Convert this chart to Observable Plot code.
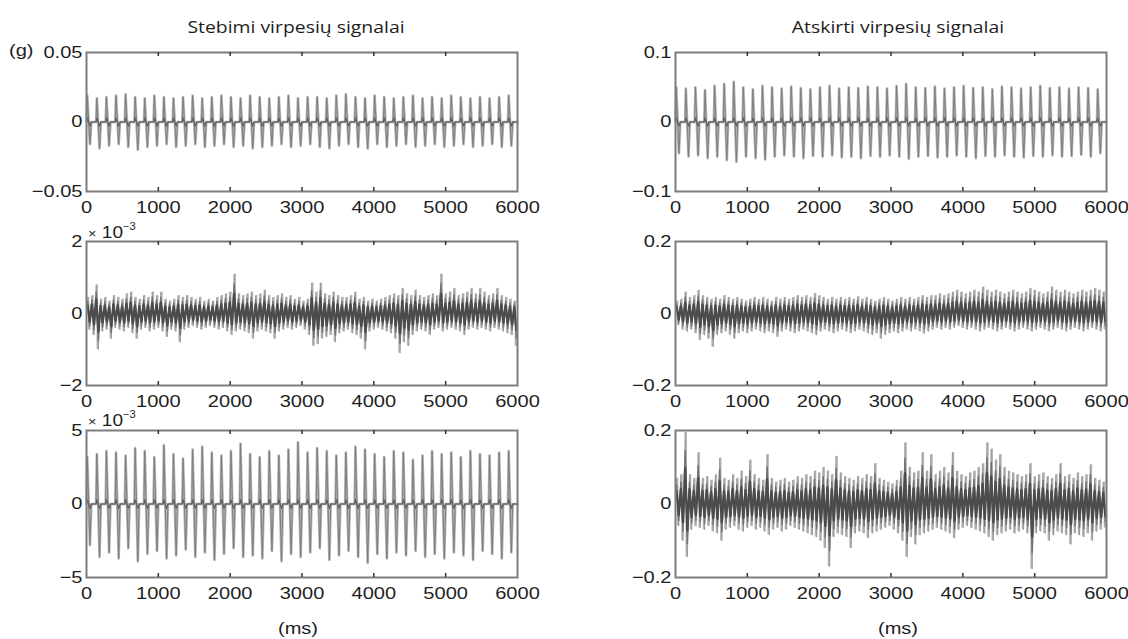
<!DOCTYPE html>
<html>
<head>
<meta charset="utf-8">
<script src="https://cdn.jsdelivr.net/npm/d3@7"></script>
<script src="https://cdn.jsdelivr.net/npm/@observablehq/plot@0.6"></script>
<style>
  body { margin: 0; background: #fff; }
  #root { position: relative; width: 1128px; height: 639px; overflow: hidden; background: #fff;
          font-family: "Liberation Sans", Arial, sans-serif; color: #1e1e1e; }
  .panel { position: absolute; }
  .lbl { position: absolute; white-space: nowrap; line-height: 1; }
  .title { font-family: "Open Sans", sans-serif; font-size: 17px; transform: translate(-50%, -50%) scaleX(1.14); }
  .ms { font-size: 17px; transform: translate(-50%, -50%) scaleX(1.18); }
  .unit { font-size: 17px; transform-origin: left center; transform: translateY(-50%) scaleX(1.18); }
  .exp { font-size: 17px; transform-origin: left center; transform: translateY(-50%) scaleX(1.12); }
  .exp .x { font-size: 13px; }
  .exp .s { font-size: 10px; position: relative; top: -8px; }
</style>
</head>
<body>
<div id="root"></div>
<script>
// ---------------- data ----------------
const titles = ["Stebimi virpesių signalai", "Atskirti virpesių signalai"];
const xTicks = [0, 1000, 2000, 3000, 4000, 5000, 6000];
const xTickLabels = ["0", "1000", "2000", "3000", "4000", "5000", "6000"];

const yTicksA = [-0.05, 0, 0.05];  const yLabelsA = ["\u22120.05", "0", "0.05"];
const yTicksB = [-0.1, 0, 0.1];    const yLabelsB = ["\u22120.1", "0", "0.1"];
const yTicksC = [-2, 0, 2];        const yLabelsC = ["\u22122", "0", "2"];
const yTicksD = [-0.2, 0, 0.2];    const yLabelsD = ["\u22120.2", "0", "0.2"];
const yTicksE = [-5, 0, 5];        const yLabelsE = ["\u22125", "0", "5"];
const yTicksF = [-0.2, 0, 0.2];    const yLabelsF = ["\u22120.2", "0", "0.2"];

// observed signal 1 (g): per-cycle positive / negative peaks
const hiA = [0.019,0.017,0.018,0.019,0.02,0.018,0.017,0.019,0.018,0.017,0.018,0.019,0.017,0.018,0.019,0.018,0.017,0.019,0.018,0.017,0.018,0.019,0.017,0.018,0.018,0.017,0.019,0.02,0.018,0.017,0.019,0.018,0.017,0.018,0.019,0.017,0.018,0.017,0.019,0.018,0.017,0.018,0.017,0.018,0.019];
const loA = [-0.016,-0.019,-0.017,-0.016,-0.018,-0.02,-0.018,-0.017,-0.016,-0.018,-0.017,-0.016,-0.018,-0.017,-0.016,-0.018,-0.017,-0.019,-0.018,-0.017,-0.016,-0.018,-0.017,-0.016,-0.018,-0.019,-0.017,-0.016,-0.018,-0.019,-0.016,-0.018,-0.017,-0.016,-0.018,-0.017,-0.016,-0.018,-0.017,-0.016,-0.018,-0.017,-0.016,-0.018,-0.017];

// separated signal 1
const hiB = [0.05,0.048,0.05,0.046,0.052,0.055,0.058,0.05,0.047,0.052,0.05,0.048,0.051,0.049,0.047,0.05,0.052,0.048,0.05,0.049,0.051,0.05,0.048,0.052,0.055,0.05,0.049,0.051,0.048,0.05,0.052,0.049,0.05,0.047,0.051,0.05,0.048,0.05,0.052,0.049,0.05,0.048,0.05,0.049,0.047];
const loB = [-0.045,-0.05,-0.048,-0.052,-0.05,-0.055,-0.057,-0.05,-0.052,-0.054,-0.05,-0.048,-0.05,-0.052,-0.049,-0.05,-0.048,-0.051,-0.05,-0.052,-0.049,-0.05,-0.048,-0.05,-0.053,-0.05,-0.049,-0.051,-0.05,-0.048,-0.05,-0.052,-0.049,-0.05,-0.048,-0.05,-0.051,-0.049,-0.05,-0.048,-0.05,-0.049,-0.047,-0.05,-0.045];

// observed signal 2 (x 10^-3): 60 ms bins, upper / lower extremes
const hiC = [0.45,0.5,0.8,0.4,0.45,0.35,0.5,0.45,0.4,0.55,0.6,0.45,0.4,0.5,0.45,0.6,0.5,0.6,0.4,0.35,
             0.4,0.5,0.45,0.5,0.45,0.4,0.45,0.35,0.4,0.35,0.45,0.5,0.55,0.6,1.1,0.55,0.5,0.55,0.6,0.5,
             0.55,0.65,0.5,0.45,0.5,0.55,0.45,0.5,0.4,0.45,0.35,0.4,0.85,0.6,0.85,0.55,0.5,0.6,0.5,0.45,
             0.45,0.5,0.6,0.4,0.45,0.35,0.4,0.35,0.4,0.45,0.5,0.55,0.5,0.7,0.55,0.5,0.65,0.5,0.45,0.5,
             0.55,0.5,1.1,0.55,0.6,0.7,0.5,0.55,0.6,0.7,0.55,0.7,0.6,0.5,0.55,0.7,0.5,0.45,0.4,0.35];
const loC = [-0.45,-0.6,-1.0,-0.5,-0.45,-0.7,-0.4,-0.45,-0.5,-0.4,-0.55,-0.7,-0.45,-0.4,-0.5,-0.45,-0.4,-0.5,-0.65,-0.45,
             -0.5,-0.8,-0.45,-0.4,-0.35,-0.4,-0.45,-0.4,-0.35,-0.4,-0.45,-0.4,-0.5,-0.6,-0.5,-0.45,-0.5,-0.55,-0.7,-0.5,
             -0.45,-0.5,-0.55,-0.7,-0.5,-0.45,-0.4,-0.45,-0.4,-0.35,-0.45,-0.6,-0.9,-0.85,-0.7,-0.65,-0.6,-0.8,-0.55,-0.5,
             -0.45,-0.55,-0.6,-0.7,-1.0,-0.5,-0.45,-0.4,-0.45,-0.5,-0.55,-0.7,-1.1,-0.8,-0.9,-0.6,-0.5,-0.45,-0.5,-0.6,
             -0.45,-0.4,-0.5,-0.45,-0.4,-0.45,-0.5,-0.6,-0.45,-0.4,-0.45,-0.4,-0.45,-0.5,-0.4,-0.45,-0.5,-0.55,-0.6,-0.9];

// separated signal 2
const hiD = [.035,.04,.06,.045,.05,.065,.05,.045,.04,.045,.04,.05,.045,.04,.045,.04,.035,.04,.045,.04,
             .045,.04,.035,.045,.04,.045,.04,.045,.05,.045,.05,.045,.056,.05,.045,.04,.045,.04,.045,.04,
             .045,.04,.047,.04,.045,.04,.035,.04,.045,.04,.035,.04,.045,.04,.045,.04,.045,.05,.045,.05,
             .05,.055,.05,.055,.06,.065,.06,.055,.06,.065,.06,.074,.065,.06,.065,.06,.055,.06,.065,.06,
             .055,.06,.07,.065,.06,.055,.06,.074,.065,.06,.065,.06,.055,.06,.065,.06,.065,.07,.065,.06];
const loD = [-.033,-.045,-.05,-.045,-.055,-.074,-.06,-.07,-.093,-.06,-.055,-.05,-.06,-.07,-.055,-.05,-.055,-.05,-.045,-.05,
             -.055,-.05,-.055,-.065,-.05,-.045,-.05,-.055,-.05,-.045,-.05,-.055,-.06,-.05,-.045,-.05,-.055,-.05,-.045,-.05,
             -.055,-.05,-.045,-.05,-.055,-.06,-.055,-.07,-.06,-.055,-.05,-.055,-.05,-.045,-.05,-.045,-.05,-.056,-.05,-.045,
             -.04,-.045,-.04,-.045,-.04,-.035,-.04,-.045,-.04,-.045,-.05,-.045,-.04,-.045,-.05,-.045,-.04,-.045,-.05,-.045,
             -.04,-.045,-.05,-.045,-.04,-.045,-.05,-.045,-.04,-.045,-.05,-.045,-.04,-.045,-.05,-.045,-.04,-.045,-.05,-.045];

// observed signal 3 (x 10^-3): per-cycle peaks
const hiE = [3.2,3.4,3.6,3.5,3.3,3.8,3.6,3.2,4.0,3.4,3.1,3.7,3.9,3.5,3.3,3.6,4.1,3.4,3.2,3.6,3.3,3.7,4.2,3.5,3.8,3.6,3.3,3.5,3.9,3.7,3.4,3.2,3.6,3.5,3.0,3.3,3.6,3.4,3.5,3.2,3.6,3.4,3.3,3.5,3.6];
const loE = [-2.8,-3.6,-3.3,-3.7,-3.0,-3.9,-3.4,-3.2,-3.7,-3.5,-3.1,-3.6,-3.3,-3.8,-3.4,-3.0,-3.6,-3.5,-3.7,-3.2,-3.9,-3.4,-3.6,-3.3,-3.0,-3.8,-3.5,-3.2,-3.6,-4.0,-3.4,-3.7,-3.3,-3.5,-3.2,-3.6,-3.4,-3.7,-3.3,-3.5,-3.8,-3.2,-3.4,-3.7,-3.3];

// separated signal 3
const hiF = [.07,.08,.195,.08,.07,.14,.07,.075,.065,.08,.125,.07,.065,.08,.07,.09,.075,.12,.08,.07,
             .065,.135,.07,.06,.065,.07,.06,.065,.075,.07,.08,.075,.09,.085,.1,.09,.08,.13,.085,.075,
             .07,.065,.075,.07,.08,.075,.11,.07,.065,.06,.055,.065,.09,.167,.1,.085,.09,.14,.09,.135,
             .08,.09,.1,.085,.14,.09,.08,.075,.085,.09,.1,.11,.167,.15,.12,.135,.1,.09,.085,.08,
             .075,.08,.11,.075,.08,.085,.075,.07,.08,.11,.075,.08,.07,.085,.075,.08,.107,.07,.065,.06];
const loF = [-.06,-.1,-.144,-.07,-.06,-.065,-.07,-.06,-.075,-.08,-.1,-.07,-.065,-.06,-.07,-.075,-.065,-.06,-.07,-.065,
             -.075,-.084,-.07,-.065,-.075,-.07,-.06,-.065,-.07,-.075,-.08,-.085,-.09,-.1,-.12,-.17,-.09,-.08,-.085,-.09,
             -.12,-.08,-.075,-.08,-.093,-.08,-.075,-.07,-.065,-.06,-.07,-.08,-.1,-.144,-.09,-.11,-.085,-.08,-.075,-.07,
             -.065,-.07,-.075,-.08,-.093,-.07,-.065,-.06,-.065,-.07,-.075,-.08,-.09,-.1,-.085,-.08,-.075,-.07,-.08,-.075,
             -.07,-.08,-.177,-.08,-.075,-.08,-.1,-.085,-.075,-.08,-.085,-.11,-.08,-.085,-.09,-.08,-.1,-.075,-.07,-.065];

// ---------------- build series ----------------
function periodicSeries(hi, lo) {
  const P = 6000 / hi.length, pts = [];
  hi.forEach((h, i) => {
    const t = i * P;
    pts.push({t: t, v: 0}, {t: t + 0.08 * P, v: h}, {t: t + 0.36 * P, v: lo[i]}, {t: t + 0.5 * P, v: 0});
  });
  pts.push({t: 6000, v: 0});
  return pts;
}
function noiseBins(hi, lo) {
  const step = 6000 / hi.length;
  return hi.map((h, i) => ({t: i * step + step / 2, hi: h, lo: lo[i]}));
}
function noiseZigzag(hi, lo) {
  const step = 6000 / hi.length, pts = [];
  hi.forEach((h, i) => { pts.push({t: i * step + step * 0.25, v: h}, {t: i * step + step * 0.75, v: lo[i]}); });
  return pts;
}

const cols = [{div: 0, left: 86, right: 517}, {div: 564, left: 675, right: 1106}];
const rows = [{top: 52, h: 139}, {top: 241, h: 144}, {top: 430, h: 147}];

const panels = [
  {col: 0, row: 0, kind: "periodic", hi: hiA, lo: loA, ticks: yTicksA, labels: yLabelsA},
  {col: 1, row: 0, kind: "periodic", hi: hiB, lo: loB, ticks: yTicksB, labels: yLabelsB},
  {col: 0, row: 1, kind: "noise", hi: hiC, lo: loC, ticks: yTicksC, labels: yLabelsC},
  {col: 1, row: 1, kind: "noise", hi: hiD, lo: loD, ticks: yTicksD, labels: yLabelsD},
  {col: 0, row: 2, kind: "periodic", hi: hiE, lo: loE, ticks: yTicksE, labels: yLabelsE},
  {col: 1, row: 2, kind: "noise", hi: hiF, lo: loF, ticks: yTicksF, labels: yLabelsF}
];

const root = document.getElementById("root");
const SX = 1.18;

panels.forEach(p => {
  const c = cols[p.col], r = rows[p.row];
  const mt = 12, mb = 34, W = 564;
  const ymax = p.ticks[p.ticks.length - 1];
  const domain = [p.ticks[0], ymax];
  const marks = [];
  if (p.kind === "periodic") {
    const s = periodicSeries(p.hi, p.lo);
    const k = ymax * 0.06;
    marks.push(
      Plot.line(s, {x: "t", y: "v", stroke: "#b4b4b4", strokeWidth: 2.6}),
      Plot.line(s, {x: "t", y: "v", stroke: "#7a7a7a", strokeWidth: 0.9}),
      Plot.line(s, {x: "t", y: d => Math.max(-k, Math.min(k, d.v)), stroke: "#5e5e5e", strokeWidth: 1.2})
    );
  } else {
    const b = noiseBins(p.hi, p.lo), z = noiseZigzag(p.hi, p.lo);
    marks.push(
      Plot.ruleX(b, {x: "t", y1: "lo", y2: "hi", stroke: "#b3b3b3", strokeWidth: 1.4}),
      Plot.line(z, {x: "t", y: "v", stroke: "#939393", strokeWidth: 0.8}),
      Plot.line(z, {x: "t", y: d => d.v * 0.75, stroke: "#727272", strokeWidth: 1.4}),
      Plot.line(z, {x: "t", y: d => d.v * 0.5, stroke: "#4c4c4c", strokeWidth: 2.4})
    );
  }
  const nSignal = marks.length;
  marks.push(
    Plot.frame({stroke: "#7d7d7d", strokeWidth: 2}),
    Plot.ruleX(xTicks.slice(1, -1), {stroke: "#333", strokeWidth: 1.5, insetBottom: r.h - 4}),
    Plot.ruleX(xTicks.slice(1, -1), {stroke: "#333", strokeWidth: 1.5, insetTop: r.h - 4}),
    Plot.axisX({ticks: xTicks, tickSize: 0, tickPadding: 9, label: null,
                tickFormat: d => xTickLabels[xTicks.indexOf(d)]}),
    Plot.axisY({ticks: p.ticks, tickSize: 0, tickPadding: 4, label: null,
                tickFormat: d => p.labels[p.ticks.indexOf(d)]})
  );
  const svg = Plot.plot({
    width: W, height: r.h + mt + mb,
    marginLeft: c.left - c.div, marginRight: c.div + W - c.right,
    marginTop: mt, marginBottom: mb,
    x: {domain: [0, 6000], label: null},
    y: {domain: domain, label: null},
    style: {fontFamily: "'Liberation Sans', Arial, sans-serif", fontSize: "17px", color: "#1e1e1e", background: "transparent", overflow: "visible"},
    marks: marks
  });
  svg.querySelectorAll('g[aria-label="x-axis tick label"] text, g[aria-label="y-axis tick label"] text').forEach(t => {
    const tr = t.getAttribute("transform") || "";
    t.setAttribute("transform", tr + ` scale(${SX},1)`);
  });
  const groups = Array.from(svg.children).filter(e => e.tagName.toLowerCase() === "g");
  groups.slice(0, nSignal).forEach(g => { g.style.filter = "blur(0.6px)"; });
  const div = document.createElement("div");
  div.className = "panel";
  div.style.left = c.div + "px";
  div.style.top = (r.top - mt) + "px";
  div.appendChild(svg);
  root.appendChild(div);
});

// ---------------- html labels ----------------
function addLabel(cls, html, left, top) {
  const d = document.createElement("div");
  d.className = "lbl " + cls;
  d.innerHTML = html;
  d.style.left = left + "px";
  d.style.top = top + "px";
  root.appendChild(d);
}
addLabel("title", titles[0], 296, 26);
addLabel("title", titles[1], 898, 26);
addLabel("unit", "(g)", 9, 50);
addLabel("exp", '<span class="x">×</span> 10<span class="s">\u22123</span>', 88, 232);
addLabel("exp", '<span class="x">×</span> 10<span class="s">\u22123</span>', 88, 420);
addLabel("ms", "(ms)", 298, 628);
addLabel("ms", "(ms)", 898, 628);
</script>
</body>
</html>
